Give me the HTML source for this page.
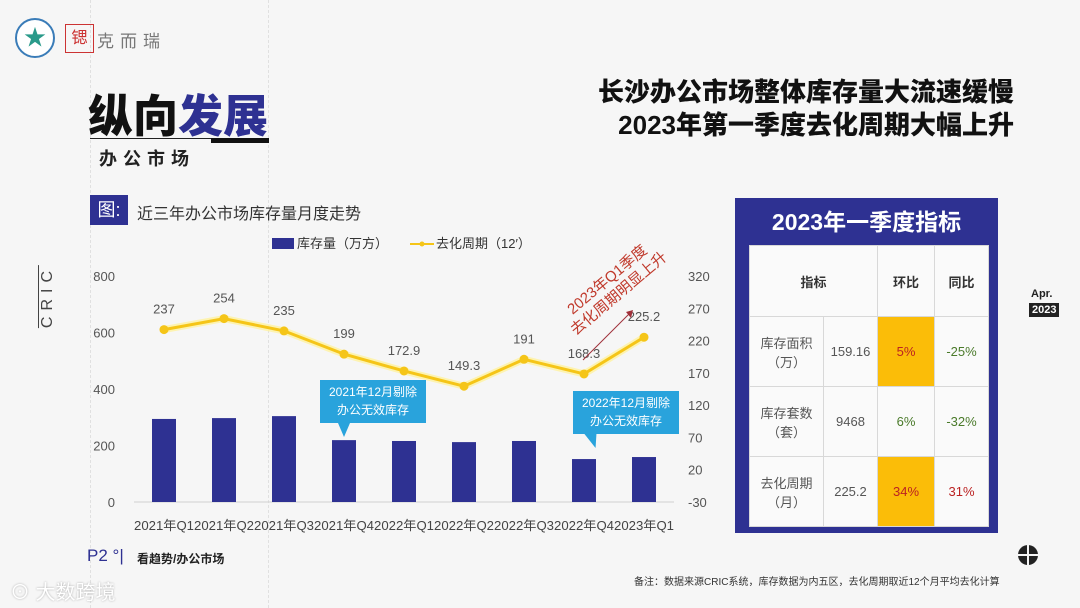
<!DOCTYPE html>
<html><head><meta charset="utf-8"><style>
body{margin:0;width:1080px;height:608px;background:#f6f6f6;font-family:"Liberation Sans","Noto Sans CJK SC",sans-serif;position:relative;overflow:hidden}
.a{position:absolute}
table{border-collapse:collapse}
td{border:1px solid #d8d8d8;text-align:center;color:#555;font-size:13px;background:#fafafa}
</style></head><body>
<div class="a" style="left:90px;top:0;width:0;height:608px;border-left:1px dashed #e0e0e0"></div>
<div class="a" style="left:268px;top:0;width:0;height:608px;border-left:1px dashed #e0e0e0"></div>
<div class="a" style="left:15px;top:18px;width:36px;height:36px;border-radius:50%;border:2px solid #3a7cb8;background:#fff;text-align:center;line-height:36px;color:#2a9a8a;font-size:22px">★</div>
<div class="a" style="left:65px;top:24px;width:27px;height:27px;border:1px solid #c33;color:#c33;font-size:16px;line-height:27px;text-align:center">锶</div>
<div class="a" style="left:97px;top:27px;font-size:17px;color:#777;letter-spacing:6px">克而瑞</div>
<div class="a" style="left:88px;top:80px;font-size:45px;font-weight:900;color:#111">纵向<span style="color:#2e3192">发展</span></div>
<div class="a" style="left:90px;top:138px;width:178px;height:1px;background:#222"></div>
<div class="a" style="left:211px;top:138px;width:58px;height:5px;background:#111"></div>
<div class="a" style="left:99px;top:145px;font-size:18px;font-weight:bold;color:#222;letter-spacing:6px">办公市场</div>
<div class="a" style="right:66px;top:76px;font-size:26px;font-weight:900;color:#111;text-align:right;line-height:33px">长沙办公市场整体库存量大流速缓慢<br>2023年第一季度去化周期大幅上升</div>
<div class="a" style="left:90px;top:195px;width:38px;height:30px;background:#2e3192;color:#fff;font-size:18px;line-height:30px;text-align:center">图:</div>
<div class="a" style="left:137px;top:200px;font-size:16px;color:#333">近三年办公市场库存量月度走势</div>
<div class="a" style="left:38px;top:265px;font-size:16px;color:#444;writing-mode:vertical-rl;transform:rotate(180deg);letter-spacing:6px;border-right:1px solid #444">CRIC</div>

<svg class="a" style="left:0;top:0" width="1080" height="608">
<g id="chart"></g>
</svg>

<div class="a" style="left:320px;top:380px;width:106px;height:40px;background:#29a3dc;color:#fff;font-size:12px;text-align:center;line-height:18px;padding-top:3px">2021年12月剔除<br>办公无效库存</div>
<div class="a" style="left:338px;top:423px;width:0;height:0;border-left:6px solid transparent;border-right:6px solid transparent;border-top:14px solid #29a3dc"></div>
<div class="a" style="left:573px;top:391px;width:106px;height:40px;background:#29a3dc;color:#fff;font-size:12px;text-align:center;line-height:18px;padding-top:3px">2022年12月剔除<br>办公无效库存</div>
<div class="a" style="left:587px;top:434px;width:0;height:0;border-left:6px solid transparent;border-right:6px solid transparent;border-top:14px solid #29a3dc;transform:skewX(20deg)"></div>
<div class="a" style="left:556px;top:312px;font-size:15px;color:#c0392b;line-height:18px;transform:rotate(-40deg);transform-origin:left top;text-align:center">2023年Q1季度<br>去化周期明显上升</div>

<div class="a" style="left:735px;top:198px;width:263px;height:335px;background:#2e3192">
<div style="color:#fff;font-size:23px;font-weight:bold;text-align:center;margin-top:5px">2023年一季度指标</div>
<table class="a" style="left:14px;top:47px;width:240px">
<tr style="height:71px"><td colspan="2" style="font-weight:bold;color:#333">指标</td><td style="font-weight:bold;color:#333;width:54px">环比</td><td style="font-weight:bold;color:#333;width:51px">同比</td></tr>
<tr style="height:70px"><td style="width:71px">库存面积<br>（万）</td><td>159.16</td><td style="background:#fbbd08;color:#b22">5%</td><td style="color:#4a7a2a">-25%</td></tr>
<tr style="height:70px"><td>库存套数<br>（套）</td><td>9468</td><td style="color:#4a7a2a">6%</td><td style="color:#4a7a2a">-32%</td></tr>
<tr style="height:70px"><td>去化周期<br>（月）</td><td>225.2</td><td style="background:#fbbd08;color:#b22">34%</td><td style="color:#b22">31%</td></tr>
</table></div>
<div class="a" style="left:1031px;top:288px;font-size:11px;font-weight:bold;color:#222">Apr.</div>
<div class="a" style="left:1029px;top:303px;font-size:11px;font-weight:bold;color:#fff;background:#222;padding:1px 3px">2023</div>
<div class="a" style="left:87px;top:546px;font-size:17px;color:#2e3192">P2 °|</div>
<div class="a" style="left:137px;top:550px;font-size:12px;font-weight:bold;color:#222">看趋势/办公市场</div>
<div class="a" style="left:10px;top:576px;font-size:20px;color:#fff;text-shadow:0 0 2px #aaa">⊙ 大数跨境</div>
<div class="a" style="left:1018px;top:545px;width:20px;height:20px;border-radius:50%;background:#222"><div style="position:absolute;left:9px;top:0;width:2px;height:20px;background:#f6f6f6"></div><div style="position:absolute;top:9px;left:0;height:2px;width:20px;background:#f6f6f6"></div></div>
<div class="a" style="left:634px;top:573px;font-size:10px;color:#333">备注：数据来源CRIC系统，库存数据为内五区，去化周期取近12个月平均去化计算</div>

<script>
const categories=["2021年Q1","2021年Q2","2021年Q3","2021年Q4","2022年Q1","2022年Q2","2022年Q3","2022年Q4","2023年Q1"];
const inventory=[294,297,304,219,216,212,216,152,159.16];
const cycle=[237,254,235,199,172.9,149.3,191,168.3,225.2];
const leftTicks=[0,200,400,600,800];
const rightTicks=[-30,20,70,120,170,220,270,320];
const NS="http://www.w3.org/2000/svg";
const g=document.getElementById('chart');
const X0=134,X1=674,YB=502,YT=276;
const xc=i=>X0+(X1-X0)/categories.length*(i+0.5);
const yl=v=>YB-(v-0)/(800-0)*(YB-YT);
const yr=v=>YB-(v+30)/(350)*(YB-YT);
function el(t,a,txt){const e=document.createElementNS(NS,t);for(const k in a)e.setAttribute(k,a[k]);if(txt!==undefined)e.textContent=txt;g.appendChild(e);return e;}
const base=el('line',{x1:X0,x2:X1,y1:YB,y2:YB,stroke:'#d0d0d0'});


leftTicks.forEach(v=>{const t=el('text',{x:115,y:yl(v)+5,'text-anchor':'end','font-size':13,fill:'#555'},v);

});
rightTicks.forEach(v=>{const t=el('text',{x:688,y:yr(v)+5,'font-size':13,fill:'#555'},v);

});
categories.forEach((c,i)=>{const t=el('text',{x:xc(i),y:530,'text-anchor':'middle','font-size':13,fill:'#444','textLength':60,'lengthAdjust':'spacingAndGlyphs'},c);


const b=el('rect',{x:xc(i)-12,y:yl(inventory[i]),width:24,height:YB-yl(inventory[i]),fill:'#2e3192'});

});
const pts=cycle.map((v,i)=>xc(i)+','+yr(v)).join(' ');
el('polyline',{points:pts,fill:'none',stroke:'#fff3a0','stroke-width':7,opacity:0.8});
const ln=el('polyline',{points:pts,fill:'none',stroke:'#f5c518','stroke-width':3});


cycle.forEach((v,i)=>{const c=el('circle',{cx:xc(i),cy:yr(v),r:4.5,fill:'#f5c518'});


const t=el('text',{x:xc(i),y:yr(v)-16,'text-anchor':'middle','font-size':13,fill:'#555'},v);

});
const ar=el('line',{x1:583,y1:360,x2:630,y2:313,stroke:'#a0303a','stroke-width':1});


el('polygon',{points:'626,312 633,310 631,318',fill:'#a0303a'});
const lb=el('rect',{x:272,y:238,width:22,height:11,fill:'#2e3192'});


el('text',{x:297,y:248,'font-size':13,fill:'#333'},'库存量（万方）');
const ll=el('line',{x1:410,x2:434,y1:244,y2:244,stroke:'#f5c518','stroke-width':2});


el('circle',{cx:422,cy:244,r:2.5,fill:'#f5c518'});
el('text',{x:436,y:248,'font-size':13,fill:'#333'},'去化周期（12′）');
</script>
</body></html>
